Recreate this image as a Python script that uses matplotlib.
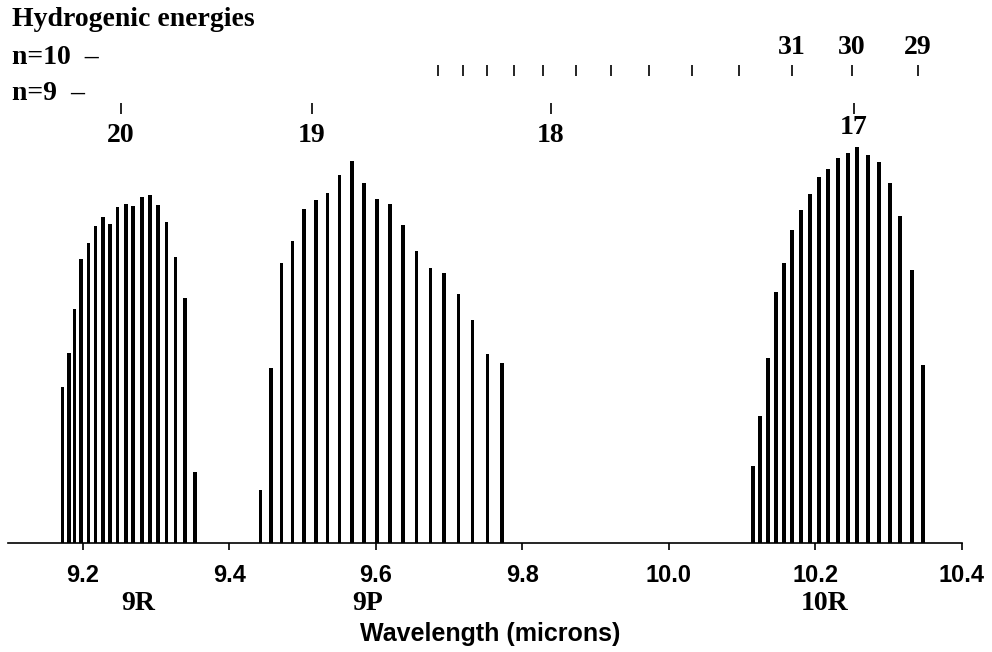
import matplotlib
matplotlib.use("Agg")
import matplotlib.pyplot as plt

# ---------------------- dados ----------------------
# linhas do laser (comprimento de onda em microns, intensidade em unidades arbitrarias)
r9_wl = [9.1723, 9.1813, 9.1887, 9.1977, 9.2078, 9.2173, 9.2273, 9.2373, 9.2474,
         9.2587, 9.2687, 9.2805, 9.2915, 9.3024, 9.3143, 9.3266, 9.3397, 9.3533]
r9_int = [156, 190, 234, 284, 300, 317, 326, 319, 336, 339, 337, 346, 348, 338,
          321, 286, 245, 71]

p9_wl = [9.4426, 9.4567, 9.4713, 9.4863, 9.5021, 9.5181, 9.5341, 9.5504, 9.5676,
         9.5840, 9.6018, 9.6191, 9.6373, 9.6556, 9.6747, 9.6932, 9.7129, 9.7320,
         9.7525, 9.7724]
p9_int = [53, 175, 280, 302, 334, 343, 350, 368, 382, 360, 344, 339, 318, 292,
          275, 270, 249, 223, 189, 180]

r10_wl = [10.1143, 10.1242, 10.1352, 10.1457, 10.1570, 10.1683, 10.1798, 10.1925,
          10.2044, 10.2167, 10.2303, 10.2440, 10.2571, 10.2713, 10.2863, 10.3013,
          10.3158, 10.3322, 10.3472]
r10_int = [77, 127, 185, 251, 280, 313, 333, 349, 366, 374, 385, 390, 396, 388,
           381, 360, 327, 273, 178]

# energias hidrogenoides: n=10 -> m e n=9 -> m
n10_wl = [9.6846, 9.7188, 9.7515, 9.7884, 9.8280, 9.8730, 9.9210, 9.9727,
          10.0310, 10.0956, 10.1680, 10.2500, 10.3400]
n10_labels = {10.1680: "31", 10.2500: "30", 10.3400: "29"}
n9_wl = [9.2519, 9.5126, 9.8389, 10.2526]
n9_labels = ["20", "19", "18", "17"]

branch_names = ["9R", "9P", "10R"]
branch_pos = [9.276, 9.589, 10.212]

xticks = [9.2, 9.4, 9.6, 9.8, 10.0, 10.2, 10.4]
xtick_labels = ["9.2", "9.4", "9.6", "9.8", "10.0", "10.2", "10.4"]

# ---------------------- grafico ----------------------
serif = ["Liberation Serif", "DejaVu Serif"]
sans = ["Liberation Sans", "DejaVu Sans"]

W, H = 992, 652
fig = plt.figure(figsize=(W / 100, H / 100), dpi=100)
base = 543  # linha de base em pixels
ax = fig.add_axes([8 / W, (H - base) / H, (962 - 8) / W, base / H])

bw = 0.0052
for wl, inten in [(r9_wl, r9_int), (p9_wl, p9_int), (r10_wl, r10_int)]:
    ax.bar(wl, inten, width=bw, color="black", linewidth=0)

# marcas hidrogenoides
ax.vlines(n10_wl, base - 76, base - 65, color="black", linewidth=1.2)
for wl, lab in n10_labels.items():
    ax.text(wl, base - 48, lab, ha="center", va="center", fontsize=20,
            fontweight="bold", family=serif)
ax.vlines(n9_wl, base - 114, base - 103, color="black", linewidth=1.2)
for wl, lab in zip(n9_wl, n9_labels):
    y = base - 127 if lab == "17" else base - 136
    ax.text(wl, y, lab, ha="center", va="center", fontsize=20,
            fontweight="bold", family=serif)

ax.set_xlim(9.098, 10.4)
ax.set_ylim(0, base)

for s in ["left", "right", "top"]:
    ax.spines[s].set_visible(False)
ax.spines["bottom"].set_linewidth(1.2)
ax.set_yticks([])
ax.set_xticks(xticks)
ax.set_xticklabels(xtick_labels, fontsize=17, fontweight="bold", family=sans)
ax.tick_params(axis="x", direction="out", length=5, width=1.2, pad=10)

for name, pos in zip(branch_names, branch_pos):
    ax.text(pos, -(604 - base) / base, name, transform=ax.get_xaxis_transform(),
            ha="center", va="center", fontsize=20, fontweight="bold", family=serif)

ax.set_xlabel("Wavelength (microns)", fontsize=18, fontweight="bold", family=sans)
ax.xaxis.set_label_coords(0.5 + 5 / 954, -(634 - base) / base)
ax.xaxis.label.set_va("center")

fig.text(12 / W, 1 - 20 / H, "Hydrogenic energies", ha="left", va="center",
         fontsize=20, fontweight="bold", family=serif)
fig.text(12 / W, 1 - 57 / H, "n=10  \u2013", ha="left", va="center",
         fontsize=20, fontweight="bold", family=serif)
fig.text(12 / W, 1 - 93 / H, "n=9  \u2013", ha="left", va="center",
         fontsize=20, fontweight="bold", family=serif)

fig.savefig("out.png", dpi=100)
